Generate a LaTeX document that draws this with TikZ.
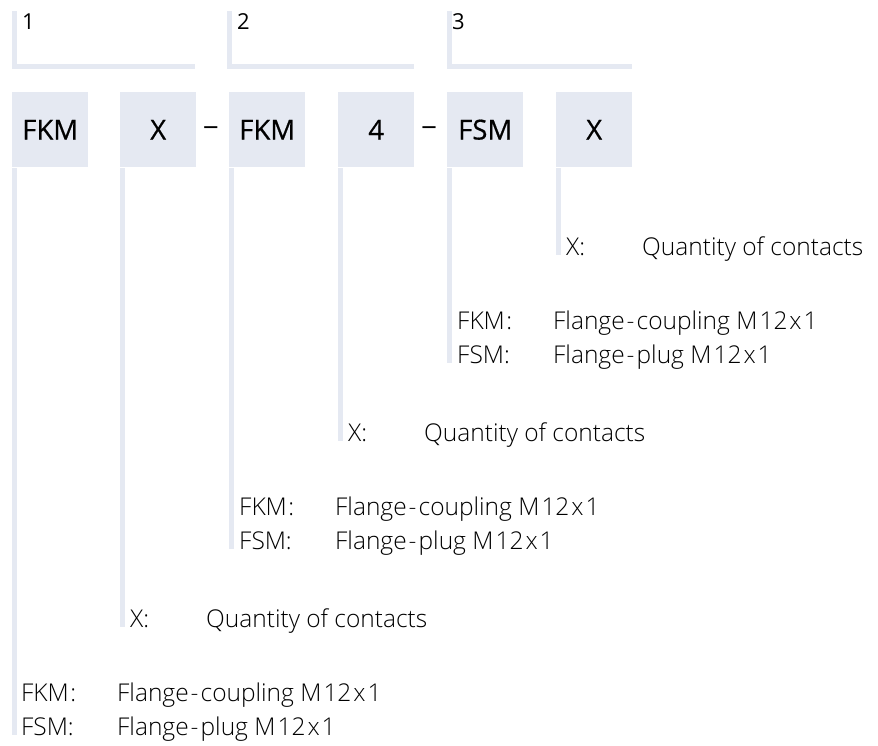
\documentclass[tikz,border=0pt]{standalone}
\usepackage{fontspec}
\setmainfont{Open Sans}
\newfontfamily\lightfont{Open Sans Light}
\newfontfamily\semifont{Open Sans}[BoldFont={Open Sans}, BoldFeatures={FakeBold=0.6}]
\definecolor{boxblue}{RGB}{229,233,242}
\begin{document}
\begin{tikzpicture}[x=1pt,y=-1pt,
  codebox/.style={rectangle, fill=boxblue, minimum width=76pt, minimum height=75pt,
    inner sep=0pt, anchor=north west, font=\semifont\bfseries\fontsize{27.5}{30}\selectfont},
  conn/.style={draw=boxblue, line width=5pt, line cap=butt},
  bracket/.style={draw=boxblue, line width=5pt, line cap=butt, line join=miter},
  keytext/.style={anchor=base west, inner sep=0pt, font=\lightfont\fontsize{24.5}{26}\selectfont},
  numtext/.style={anchor=base west, inner sep=0pt, font=\fontsize{22}{24}\selectfont},
  dashtext/.style={anchor=base, inner sep=0pt, font=\fontsize{28}{30}\selectfont}]
\useasboundingbox (0,0) rectangle (878,746);

% brackets
\coordinate (t1) at (14.5,11);  \coordinate (h1) at (195,66.5);
\coordinate (t2) at (229.5,11); \coordinate (h2) at (414,66.5);
\coordinate (t3) at (449.5,11); \coordinate (h3) at (632,66.5);
\draw[bracket] (t1) |- (h1);
\draw[bracket] (t2) |- (h2);
\draw[bracket] (t3) |- (h3);
\node[numtext] (n1) at (22,30) {1};
\node[numtext] (n2) at (237,30) {2};
\node[numtext] (n3) at (452,30) {3};

% code boxes
\node[codebox] (b1) at (12,92)  {FKM};
\node[codebox] (b2) at (120,92) {X};
\node[codebox] (b3) at (229,92) {FKM};
\node[codebox] (b4) at (338,92) {4};
\node[codebox] (b5) at (447,92) {FSM};
\node[codebox] (b6) at (556,92) {X};
\node[dashtext] (d1) at (211,138) {−};
\node[dashtext] (d2) at (429,138) {−};

% explanation texts
\newcommand{\xkey}{\makebox[76pt][l]{X:}Quantity of contacts}
\newcommand{\fkmkey}{\makebox[96pt][l]{FKM\hspace{1.5pt}:}Flange\hspace{2pt}-\hspace{2pt}coupling M\hspace{2pt}12\hspace{2pt}x\hspace{2pt}1}
\newcommand{\fsmkey}{\makebox[96pt][l]{FSM:}Flange\hspace{2pt}-\hspace{2pt}plug M\hspace{2pt}12\hspace{2pt}x\hspace{2pt}1}
\node[keytext] (k6)  at (566,255) {\xkey};
\node[keytext] (k5a) at (457,329) {\fkmkey};
\node[keytext] (k5b) at (457,363) {\fsmkey};
\node[keytext] (k4)  at (348,441) {\xkey};
\node[keytext] (k3a) at (239,515) {\fkmkey};
\node[keytext] (k3b) at (239,549) {\fsmkey};
\node[keytext] (k2)  at (130,627) {\xkey};
\node[keytext] (k1a) at (21,701)  {\fkmkey};
\node[keytext] (k1b) at (21,735)  {\fsmkey};

% connectors
\draw[conn] ([xshift=2.5pt,yshift=-1pt]b1.south west) -- ([xshift=2.5pt]b1.south west |- k1b.base);
\draw[conn] ([xshift=2.5pt,yshift=-1pt]b2.south west) -- ([xshift=2.5pt]b2.south west |- k2.base);
\draw[conn] ([xshift=2.5pt,yshift=-1pt]b3.south west) -- ([xshift=2.5pt]b3.south west |- k3b.base);
\draw[conn] ([xshift=2.5pt,yshift=-1pt]b4.south west) -- ([xshift=2.5pt]b4.south west |- k4.base);
\draw[conn] ([xshift=2.5pt,yshift=-1pt]b5.south west) -- ([xshift=2.5pt]b5.south west |- k5b.base);
\draw[conn] ([xshift=2.5pt,yshift=-1pt]b6.south west) -- ([xshift=2.5pt]b6.south west |- k6.base);
\end{tikzpicture}
\end{document}
